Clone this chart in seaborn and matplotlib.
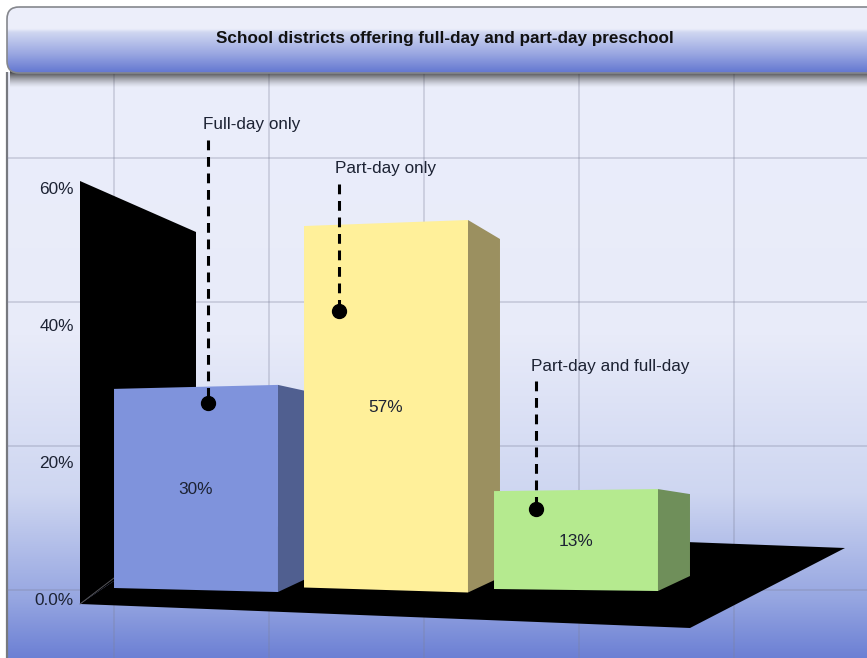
import numpy as np
import pandas as pd
import matplotlib
matplotlib.use("Agg")
import matplotlib.pyplot as plt
import seaborn as sns
from matplotlib.patches import FancyBboxPatch, Polygon, Rectangle

# Chart values
categories = ["Full-day only", "Part-day only", "Part-day and full-day"]
shares = [30, 57, 13]
tick_values = [0, 20, 40, 60]
tick_labels = ["0.0%", "20%", "40%", "60%"]
chart_title = "School districts offering full-day and part-day preschool"

W, H = 867, 658
PX_PER_PCT = 6.07   # front face scale
ZERO_PY = 569       # pixel row of 0% at the front of the bars
BASE = -3.46        # bars stand a little below the 0 line in this fake 3D
SLOT = 190          # pixels between bar centres

sns.set_theme(style="white")
plt.rcParams["font.family"] = ["Liberation Sans", "DejaVu Sans"]
TEXT = "#1c2233"


def gradient(stops, height=400):
    pos = np.linspace(0, 1, height)
    at = [s[0] for s in stops]
    rgb = [np.interp(pos, at, [s[1][c] / 255 for s in stops]) for c in range(3)]
    return np.stack(rgb, axis=1)[:, None, :]


fig = plt.figure(figsize=(W / 100, H / 100), dpi=100, facecolor="white")

# Backdrop in pixel coordinates
bg = fig.add_axes([0, 0, 1, 1], zorder=0)
bg.set_xlim(0, W)
bg.set_ylim(H, 0)
bg.axis("off")
panel = gradient([(0, (235, 238, 251)), (0.45, (232, 235, 249)), (0.72, (206, 214, 241)),
                  (0.9, (150, 166, 225)), (1, (108, 128, 212))])
bg.imshow(panel, extent=(7, W, H, 72), aspect="auto", zorder=0)
bg.add_patch(Rectangle((7, 72), 0, H, ec="#77797f", lw=1.6, zorder=1))
bg.set_xlim(0, W)
bg.set_ylim(H, 0)

# Grid
bg.vlines([114, 269, 424, 579, 734], 73, H, color="#7c8099", alpha=0.27, lw=1.4, zorder=1)
bg.hlines([158, 302, 446, 590], 7, W, color="#7c8099", alpha=0.27, lw=1.4, zorder=1)

# Black wall and floor
bg.add_patch(Polygon([(80, 181), (196, 232), (196, 525), (80, 604)], fc="black", ec="none", zorder=2))
bg.add_patch(Polygon([(80, 604), (690, 628), (845, 548), (235, 525), (196, 525)], fc="black", ec="none", zorder=2))
bg.plot([80, 114], [604, 578], color="#55555a", lw=0.7, zorder=3)

# Header bar with its shadow
shadow = np.zeros((80, 1, 4))
shadow[:, :, 3] = np.concatenate([np.full(36, 0.82), np.linspace(0.82, 0, 44) ** 1.4])[:, None]
shadow[:, :, :3] = 0.12
bg.imshow(shadow, extent=(10, W, 88, 60), aspect="auto", zorder=4)
head = gradient([(0, (237, 239, 251)), (0.33, (236, 238, 250)), (0.38, (208, 215, 241)),
                 (0.7, (155, 168, 226)), (1, (98, 118, 208))])
box = FancyBboxPatch((16, 16), W + 30, 48, boxstyle="round,pad=9,rounding_size=12",
                     fc="none", ec="#85878d", lw=1.2, zorder=6)
bg.add_patch(box)
im = bg.imshow(head, extent=(7, W, 73, 7), aspect="auto", zorder=5)
im.set_clip_path(box)
bg.set_xlim(0, W)
bg.set_ylim(H, 0)

# Bars through seaborn, on a full figure axes scaled to the front face
ax = fig.add_axes([0, 0, 1, 1], zorder=1)
ax.patch.set_alpha(0)
df = pd.DataFrame({"category": categories, "share": shares})
sns.barplot(data=df, x="category", y="share", hue="category", legend=False, width=0.863,
            palette=["#7f93dc", "#fff09a", "#b5ea8f"], bottom=BASE, saturation=1, ax=ax)
ax.set_xlim(-196 / SLOT, (W - 196) / SLOT)
ax.set_ylim((ZERO_PY - H) / PX_PER_PCT, ZERO_PY / PX_PER_PCT)
ax.axis("off")

side_colors = ["#505f90", "#9b9060", "#6f8f5a"]
top_drop = [7, 19, 5]      # pixels the top edge falls going back
lean_top = [2, 3, 1]       # slight tilt of the front face
lean_bot = [2, 2.5, 1]
depth = 32 / SLOT
bars = list(ax.patches)
for i, bar in enumerate(bars):
    x0, x1 = bar.get_x(), bar.get_x() + bar.get_width()
    y0, y1 = BASE, shares[i]
    px = 1 / PX_PER_PCT
    tl, tr = y1 - lean_top[i] * px, y1 + lean_top[i] * px
    bl, br = y0 + lean_bot[i] * px, y0 - lean_bot[i] * px
    ax.add_patch(Polygon([(x1, tr), (x1 + depth, tr - top_drop[i] * px),
                          (x1 + depth, br + 15 * px), (x1, br)],
                         fc=side_colors[i], ec="none", zorder=2 + 2 * i))
    ax.add_patch(Polygon([(x0, tl), (x1, tr), (x1, br), (x0, bl)],
                         fc=bar.get_facecolor(), ec="none", zorder=3 + 2 * i))
    bar.set_visible(False)
    ax.text((x0 + x1) / 2, (y0 + y1) / 2 - px, f"{shares[i]}%", ha="center", va="center",
            fontsize=12.4, color=TEXT, zorder=20)

# Wall axis, only for the tick labels
wall = fig.add_axes([80 / W, (H - 599) / H, 116 / W, (599 - 188) / H], zorder=2)
wall.patch.set_alpha(0)
wall.set_ylim(0, 60)
wall.set_xticks([])
wall.set_yticks(tick_values)
wall.set_yticklabels(tick_labels, fontsize=12.4, color=TEXT)
wall.tick_params(axis="y", length=0, pad=4.5)
sns.despine(ax=wall, left=True, bottom=True)

# Callouts and title on top, pixel coordinates again
top = fig.add_axes([0, 0, 1, 1], zorder=3)
top.patch.set_alpha(0)
top.set_xlim(0, W)
top.set_ylim(H, 0)
top.axis("off")
callouts = [(208, 403, 140, 203, 125), (339, 311, 184, 335, 169), (536, 509, 381, 531, 366)]
for name, (dx, dy, line_top, lx, ly) in zip(categories, callouts):
    top.plot([dx, dx], [line_top, dy], color="black", lw=2.2, ls=(0, (3.2, 2.2)), zorder=1)
    top.plot(dx, dy, "o", color="black", ms=10, zorder=2)
    top.text(lx, ly, name, ha="left", va="center", fontsize=12.3, color=TEXT)
top.text(444.5, 38.5, chart_title, ha="center", va="center", fontsize=12.35,
         fontweight="bold", color="#111111")

fig.savefig("out.png", dpi=100)
